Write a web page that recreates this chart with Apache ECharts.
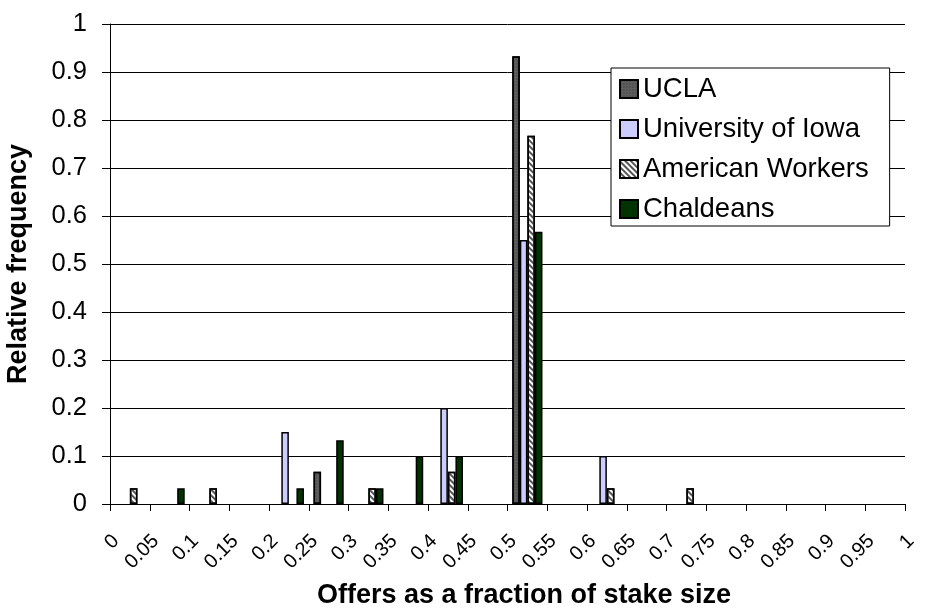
<!DOCTYPE html>
<html>
<head>
<meta charset="utf-8">
<script src="https://cdn.jsdelivr.net/npm/echarts@6/dist/echarts.min.js"></script>
<style>html,body{margin:0;padding:0;background:#fff}#c{width:936px;height:610px}</style>
</head>
<body>
<div id="c"></div>
<script>
// Bins of offers (each 0.05 wide): label = lower edge
const bins = ['0','0.05','0.1','0.15','0.2','0.25','0.3','0.35','0.4','0.45','0.5','0.55','0.6','0.65','0.7','0.75','0.8','0.85','0.9','0.95'];
// Tick labels on the bin edges
const tickLabels = ['0','0.05','0.1','0.15','0.2','0.25','0.3','0.35','0.4','0.45','0.5','0.55','0.6','0.65','0.7','0.75','0.8','0.85','0.9','0.95','1'];
const seriesNames = ['UCLA','University of Iowa','American Workers','Chaldeans'];
const ucla      = [null,null,null,null,null,0.067,null,null,null,null,0.933,null,null,null,null,null,null,null,null,null];
const iowa      = [null,null,null,null,0.15,null,null,null,0.2,null,0.55,null,0.1,null,null,null,null,null,null,null];
const workers   = [0.033,null,0.033,null,null,null,0.033,null,0.067,null,0.767,null,0.033,null,0.033,null,null,null,null,null];
const chaldeans = [null,0.033,null,null,0.033,0.133,0.033,0.1,0.1,null,0.567,null,null,null,null,null,null,null,null,null];
const xTitle = 'Offers as a fraction of stake size';
const yTitle = 'Relative frequency';

const FONT = '"Liberation Sans", Arial, sans-serif';
const chart = echarts.init(document.getElementById('c'), null, {renderer:'canvas'});
const border = {borderColor:'#000', borderWidth:1.5};
const barCommon = {type:'bar', xAxisIndex:0, yAxisIndex:0, barGap:'0%', barCategoryGap:'24%'};
chart.setOption({
  animation:false,
  backgroundColor:'#fff',
  textStyle:{fontFamily:FONT},
  title:{
    text:xTitle, left:524, top:582, textAlign:'center', padding:0,
    textStyle:{fontSize:27, fontWeight:'bold', color:'#000', fontFamily:FONT}
  },
  grid:[
    {left:110, right:31, top:24, bottom:106, containLabel:false, outerBoundsMode:'none'},
    {left:116, right:25, top:24, bottom:106, containLabel:false, outerBoundsMode:'none'}
  ],
  legend:{
    orient:'vertical', left:611, top:68,
    padding:[7,21,3,8],
    borderColor:'#000', borderWidth:1, backgroundColor:'#fff',
    icon:'rect',
    itemWidth:18, itemHeight:18, itemGap:12,
    textStyle:{fontFamily:FONT, fontSize:27.5, color:'#000', lineHeight:26},
    data:seriesNames
  },
  xAxis:[
    {type:'category', gridIndex:0, data:bins, axisLine:{lineStyle:{color:'#000', width:1}},
     axisTick:{show:false}, axisLabel:{show:false}, splitLine:{show:false}},
    {type:'category', gridIndex:0, data:tickLabels, boundaryGap:false, position:'bottom',
     axisLine:{show:false},
     axisTick:{show:true, inside:false, length:7, interval:0, lineStyle:{color:'#000'}},
     axisLabel:{show:false}, splitLine:{show:false}},
    {type:'category', gridIndex:1, data:tickLabels, boundaryGap:false, position:'bottom',
     axisLine:{show:false}, axisTick:{show:false},
     axisLabel:{interval:0, rotate:45, fontSize:20, color:'#000', fontFamily:FONT, margin:34},
     splitLine:{show:false}}
  ],
  yAxis:[
    {type:'value', gridIndex:0, min:0, max:1, interval:0.1,
     axisLine:{show:true, lineStyle:{color:'#000'}},
     axisTick:{show:true, length:8, lineStyle:{color:'#000'}},
     axisLabel:{fontSize:25.5, color:'#000', fontFamily:FONT, margin:23,
       formatter:v=>String(Math.round(v*10)/10)},
     splitLine:{show:true, lineStyle:{color:'#000', width:1}},
     name:yTitle, nameLocation:'middle', nameGap:78,
     nameTextStyle:{fontSize:27, fontWeight:'bold', color:'#000', fontFamily:FONT}},
    {type:'value', gridIndex:1, min:0, max:1, show:false}
  ],
  series:[
    Object.assign({name:seriesNames[0], data:ucla,
     itemStyle:Object.assign({color:'#5e5e5e', decal:{symbol:'rect', symbolSize:0.6, dashArrayX:[2,1], dashArrayY:[2,1], color:'#3a3a3a'}}, border)}, barCommon),
    Object.assign({name:seriesNames[1], data:iowa,
     itemStyle:Object.assign({color:'#CCCCFF'}, border)}, barCommon),
    Object.assign({name:seriesNames[2], data:workers,
     itemStyle:Object.assign({color:'#ffffff', decal:{symbol:'rect', symbolSize:1, dashArrayX:[1,0], dashArrayY:[1.5,1.5], rotation:Math.PI/4, color:'#555'}}, border)}, barCommon),
    Object.assign({name:seriesNames[3], data:chaldeans,
     itemStyle:Object.assign({color:'#003300'}, border)}, barCommon)
  ]
});
</script>
</body>
</html>
